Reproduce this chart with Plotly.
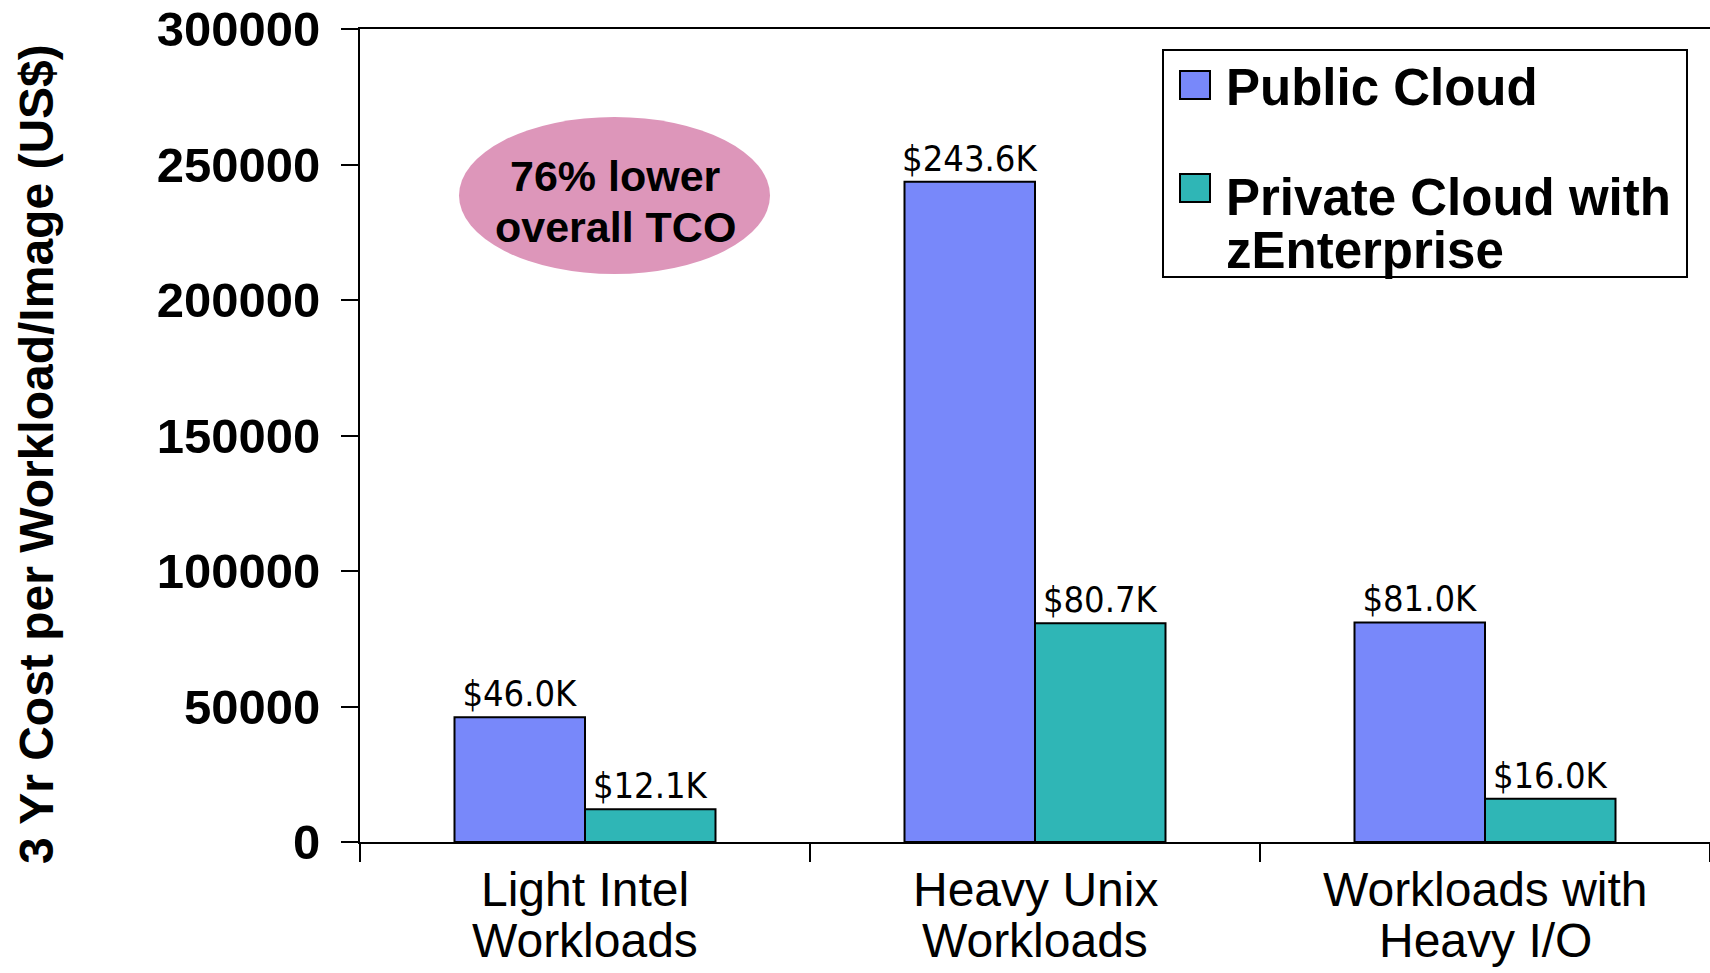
import plotly.graph_objects as go

categories = ["Light Intel Workloads", "Heavy Unix Workloads", "Workloads with Heavy I/O"]
category_lines = [["Light Intel", "Workloads"], ["Heavy Unix", "Workloads"], ["Workloads with", "Heavy I/O"]]
public_cloud = [46000, 243600, 81000]
private_cloud = [12100, 80700, 16000]
series_names = ["Public Cloud", "Private Cloud with zEnterprise"]
y_ticks = [0, 50000, 100000, 150000, 200000, 250000, 300000]

W, H = 1710, 973
L, R, T, B = 360, 0, 29, 131
PW, PH = W - L - R, H - T - B


def px(X):
    return (X - L) / PW


def py(Y):
    return (T + PH - Y) / PH


BLUE = "#7888FA"
TEAL = "#2FB6B6"
SANS = "Liberation Sans, Arial, sans-serif"
label_font = dict(family="Liberation Sans Narrow, DejaVu Sans Condensed, Arial Narrow, sans-serif",
                  size=36, color="black")

fig = go.Figure()
for name, vals, col in [(series_names[0], public_cloud, BLUE), (series_names[1], private_cloud, TEAL)]:
    fig.add_trace(go.Bar(
        x=categories, y=vals, name=name,
        marker=dict(color=col, line=dict(color="black", width=2)),
        text=[f"${v/1000:.1f}K" for v in vals],
        textposition="outside", textfont=label_font, cliponaxis=False,
        constraintext="none", showlegend=False,
    ))

fig.update_layout(
    width=W, height=H,
    margin=dict(l=L, r=R, t=T, b=B),
    paper_bgcolor="white", plot_bgcolor="white",
    barmode="group", bargap=0.42, bargroupgap=0,
    font=dict(family=SANS, color="black"),
    xaxis=dict(
        showline=True, linecolor="black", linewidth=2, mirror=True,
        ticks="outside", tickson="boundaries", ticklen=18, tickwidth=2, tickcolor="black",
        showticklabels=False, showgrid=False,
    ),
    yaxis=dict(
        range=[0, 300000], tickvals=y_ticks, ticktext=[str(v) for v in y_ticks],
        showline=True, linecolor="black", linewidth=2,
        ticks="outside", ticklen=17, tickwidth=2, tickcolor="black",
        tickfont=dict(size=49, family=SANS, weight="bold"),
        ticklabeloverflow="allow", ticklabelstandoff=11,
        showgrid=False, zeroline=False, automargin=False,
    ),
)

# Category labels (two lines each, placed on the category axis)
for cat, lines in zip(categories, category_lines):
    for line, ytxt in zip(lines, [889, 941]):
        fig.add_annotation(
            text=line, xref="x", yref="paper", x=cat, y=py(ytxt),
            xanchor="center", yanchor="middle", showarrow=False,
            font=dict(size=48, family=SANS),
        )

# Y-axis title
fig.add_annotation(
    text="<b>3 Yr Cost per Workload/Image (US$)</b>", textangle=-90,
    xref="paper", yref="paper", x=px(36), y=py(454), xanchor="center", yanchor="middle",
    showarrow=False, font=dict(size=48, family=SANS),
)

# Callout ellipse
fig.add_shape(type="circle", xref="paper", yref="paper",
              x0=px(459), x1=px(770), y0=py(274), y1=py(117),
              fillcolor="#DD96BA", line=dict(width=0), layer="above")
for txt, ytxt in [("76% lower", 176), ("overall TCO", 227)]:
    fig.add_annotation(
        text=f"<b>{txt}</b>", xref="paper", yref="paper",
        x=px(615), y=py(ytxt), xanchor="center", yanchor="middle", showarrow=False,
        font=dict(size=43, family=SANS),
    )

# Legend box
fig.add_shape(type="rect", xref="paper", yref="paper",
              x0=px(1163), x1=px(1687), y0=py(277), y1=py(50),
              fillcolor="white", line=dict(color="black", width=2), layer="above")
legend_squares = [(BLUE, 85), (TEAL, 188)]
for col, ysq in legend_squares:
    fig.add_shape(type="rect", xref="paper", yref="paper",
                  x0=px(1180), x1=px(1210), y0=py(ysq + 14), y1=py(ysq - 14),
                  fillcolor=col, line=dict(color="black", width=2), layer="above")
legend_lines = [("Public Cloud", 87), ("Private Cloud with", 198), ("zEnterprise", 251)]
for txt, ytxt in legend_lines:
    fig.add_annotation(
        text=f"<b>{txt}</b>", xref="paper", yref="paper",
        x=px(1224), y=py(ytxt), xanchor="left", yanchor="middle", showarrow=False,
        align="left", font=dict(size=51, family=SANS),
    )

fig.write_html("out.html", config={"displayModeBar": False},
               post_script="document.body.style.margin='0';")
